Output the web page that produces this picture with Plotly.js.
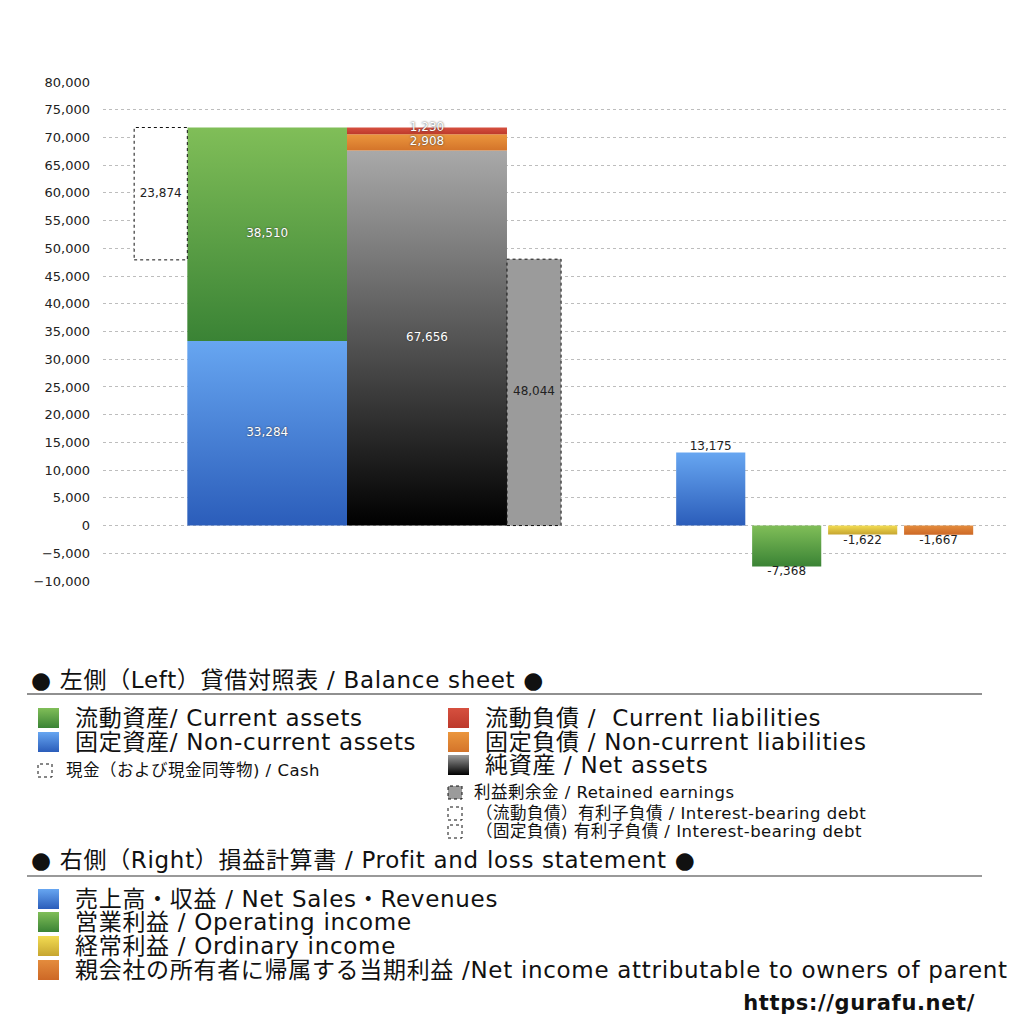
<!DOCTYPE html>
<html>
<head>
<meta charset="utf-8">
<script src="https://cdn.plot.ly/plotly-3.0.1.min.js"></script>
<style>
  html, body { margin: 0; padding: 0; background: #ffffff; }
  #chart { width: 1024px; height: 1024px; }
  /* legend texts: the original's Latin glyphs run wider than DejaVu */
  #chart .x2y2 .textpoint text { letter-spacing: 0.03em; }
</style>
</head>
<body>
<div id="chart"></div>
<script>
// 貸借対照表 (左側)
const assetLabels = ['固定資産', '流動資産'];            // bottom -> top
const assetValues = [33284, 38510];
const liabilityLabels = ['純資産', '固定負債', '流動負債']; // bottom -> top
const liabilityValues = [67656, 2908, 1230];
const cashValue = 23874;
const retainedValue = 48044;

// 損益計算書 (右側)
const plLabels = ['売上高・収益', '営業利益', '経常利益', '親会社の所有者に帰属する当期利益'];
const plValues = [13175, -7368, -1622, -1667];

// slot positions on the hidden x axis (range 0..11.9)
const cashSlot = [0.41, 1.11];
const assetSlot = [1.11, 3.212];
const liabilitySlot = [3.212, 5.318];
const retainedSlot = [5.318, 6.03];
const plCenters = [8, 9, 10, 11];
const plWidth = 0.91;

const FONT = 'DejaVu Sans, Noto Sans CJK JP, sans-serif';

// gradient colours: [bottom, top]
const GREEN = ['#3a8335', '#80be58'];
const BLUE = ['#2b5dba', '#67a6f1'];
const RED = ['#bd392b', '#d6503f'];
const ORANGE = ['#d4742a', '#eb963d'];
const NET = ['#000000', '#a9a9a9'];
const YELLOW = ['#c6a530', '#f3dc52'];
const PL_ORANGE = ['#cd6826', '#e48c3d'];
const RETAINED = '#9b9b9b';

const assetColors = [BLUE, GREEN];
const liabilityColors = [NET, ORANGE, RED];
const plColors = [BLUE, GREEN, YELLOW, PL_ORANGE];

const fmt = (v) => v.toLocaleString('en-US');

// closed rectangle drawn as a filled scatter so it can carry a vertical gradient
const rect = (x0, x1, y0, y1, opts = {}) => {
  const trace = {
    type: 'scatter',
    mode: 'lines',
    x: [x0, x1, x1, x0, x0],
    y: [y0, y0, y1, y1, y0],
    fill: opts.fill === false ? 'none' : 'toself',
    line: opts.line || { width: 0 },
    hoverinfo: 'skip',
    showlegend: false,
    xaxis: opts.xaxis || 'x',
    yaxis: opts.yaxis || 'y',
  };
  if (opts.gradient) {
    trace.fillgradient = {
      type: 'vertical',
      colorscale: [[0, opts.gradient[0]], [1, opts.gradient[1]]],
    };
  } else if (opts.color) {
    trace.fillcolor = opts.color;
  }
  return trace;
};

const traces = [];
const whiteLabels = { x: [], y: [], text: [] };
const darkLabels = { x: [], y: [], text: [] };

// thin segments get their label on the top edge, like the original
const labelY = (base, v) => (v < 2000 ? base + v : base + v / 2);

// assets stack
let base = 0;
assetValues.forEach((v, i) => {
  traces.push(rect(assetSlot[0], assetSlot[1], base, base + v, { gradient: assetColors[i] }));
  whiteLabels.x.push((assetSlot[0] + assetSlot[1]) / 2);
  whiteLabels.y.push(labelY(base, v));
  whiteLabels.text.push(fmt(v));
  base += v;
});
const totalAssets = base;

// liabilities + net assets stack
base = 0;
liabilityValues.forEach((v, i) => {
  traces.push(rect(liabilitySlot[0], liabilitySlot[1], base, base + v, { gradient: liabilityColors[i] }));
  whiteLabels.x.push((liabilitySlot[0] + liabilitySlot[1]) / 2);
  whiteLabels.y.push(labelY(base, v));
  whiteLabels.text.push(fmt(v));
  base += v;
});

// cash hangs from the top of total assets
const dotted = { color: '#111111', width: 1, dash: 'dot' };
traces.push(rect(cashSlot[0], cashSlot[1], totalAssets - cashValue, totalAssets, { color: '#ffffff', line: dotted }));
darkLabels.x.push((cashSlot[0] + cashSlot[1]) / 2);
darkLabels.y.push(totalAssets - cashValue / 2);
darkLabels.text.push(fmt(cashValue));

// retained earnings
traces.push(rect(retainedSlot[0], retainedSlot[1], 0, retainedValue, { color: RETAINED, line: dotted }));
darkLabels.x.push((retainedSlot[0] + retainedSlot[1]) / 2);
darkLabels.y.push(retainedValue / 2);
darkLabels.text.push(fmt(retainedValue));

// P&L bars
plValues.forEach((v, i) => {
  traces.push(rect(plCenters[i] - plWidth / 2, plCenters[i] + plWidth / 2, 0, v, { gradient: plColors[i] }));
});

traces.push({
  type: 'scatter', mode: 'text', ...whiteLabels,
  textfont: { family: FONT, size: 12, color: '#ffffff', shadow: '0px 0px 2px #333333' },
  hoverinfo: 'skip', showlegend: false,
});
traces.push({
  type: 'scatter', mode: 'text', ...darkLabels,
  textfont: { family: FONT, size: 12, color: '#222222' },
  hoverinfo: 'skip', showlegend: false,
});
traces.push({
  type: 'scatter', mode: 'text',
  x: plCenters, y: plValues, text: plValues.map(fmt),
  textposition: plValues.map((v) => (v >= 0 ? 'top center' : 'bottom center')),
  textfont: { family: FONT, size: 12, color: '#222222' },
  hoverinfo: 'skip', showlegend: false,
});

// ---- custom legend, drawn in page pixels on an overlay axis pair ----
const legendBig = [
  { x: 38, y: 718, text: '流動資産/ Current assets', grad: GREEN },
  { x: 38, y: 742, text: '固定資産/ Non-current assets', grad: BLUE },
  { x: 448, y: 718, text: '流動負債 /  Current liabilities', grad: RED },
  { x: 448, y: 742, text: '固定負債 / Non-current liabilities', grad: ORANGE },
  { x: 448, y: 765, text: '純資産 / Net assets', grad: [NET[0], '#9a9a9a'] },
  { x: 38, y: 899, text: '売上高・収益 / Net Sales・Revenues', grad: BLUE },
  { x: 38, y: 922, text: '営業利益 / Operating income', grad: GREEN },
  { x: 38, y: 946, text: '経常利益 / Ordinary income', grad: YELLOW },
  { x: 38, y: 970, text: '親会社の所有者に帰属する当期利益 /Net income attributable to owners of parent', grad: PL_ORANGE },
];
const legendSmall = [
  { x: 38, y: 770, text: '現金（および現金同等物) / Cash', fill: null },
  { x: 448, y: 792, text: '利益剰余金 / Retained earnings', fill: RETAINED },
  { x: 448, y: 813, text: '（流動負債）有利子負債 / Interest-bearing debt', fill: null },
  { x: 448, y: 831, text: '（固定負債) 有利子負債 / Interest-bearing debt', fill: null },
];
const headers = [
  { x: 31, y: 680, text: '● 左側（Left）貸借対照表 / Balance sheet ●' },
  { x: 31, y: 860, text: '● 右側（Right）損益計算書 / Profit and loss statement ●' },
];

const overlay = { xaxis: 'x2', yaxis: 'y2' };

legendBig.forEach((item) => {
  traces.push(rect(item.x, item.x + 21, item.y + 10, item.y - 10, { gradient: item.grad, ...overlay }));
});
legendSmall.forEach((item) => {
  const opts = { line: { color: '#111111', width: 1, dash: 'dot' }, ...overlay };
  if (item.fill) opts.color = item.fill; else opts.fill = false;
  traces.push(rect(item.x, item.x + 14, item.y + 7, item.y - 6, opts));
});

// text baseline sits a touch high in DejaVu, so nudge down 2px
const legendText = (items, dx, size, extra = {}) => ({
  type: 'scatter', mode: 'text', ...overlay,
  x: items.map((it) => it.x + (typeof dx === 'function' ? dx(it) : dx)),
  y: items.map((it) => it.y + 2),
  text: items.map((it) => it.text),
  textposition: 'middle right',
  textfont: { family: FONT, size, color: '#111111' },
  hoverinfo: 'skip', showlegend: false,
  ...extra,
});
traces.push(legendText(legendBig, 37, 23));
traces.push(legendText(legendSmall, (it) => (it.fill ? 26 : 28), 16.5));
traces.push(legendText(headers, 0, 23));
traces.push(legendText([{ x: 975, y: 1003, text: 'https://gurafu.net/' }], 0, 21, {
  textposition: 'middle left',
  textfont: { family: FONT, size: 21, color: '#111111', weight: 'bold' },
}));

const px = (x) => x / 1024;
const py = (y) => 1 - y / 1024;
const shapes = [
  { type: 'line', xref: 'paper', yref: 'paper', x0: px(27), x1: px(982), y0: py(694), y1: py(694), line: { color: '#222222', width: 1.2 } },
  { type: 'line', xref: 'paper', yref: 'paper', x0: px(27), x1: px(982), y0: py(876), y1: py(876), line: { color: '#777777', width: 1.5 } },
];

const layout = {
  width: 1024,
  height: 1024,
  margin: { l: 0, r: 0, t: 0, b: 0 },
  paper_bgcolor: '#ffffff',
  plot_bgcolor: 'rgba(0,0,0,0)',
  showlegend: false,
  font: { family: FONT, color: '#222222' },
  xaxis: { domain: [103 / 1024, 1007 / 1024], range: [0, 11.9], visible: false, fixedrange: true },
  yaxis: {
    domain: [(1024 - 581) / 1024, (1024 - 82) / 1024],
    range: [-10000, 80000],
    dtick: 5000,
    tickformat: ',d',
    showgrid: true,
    gridcolor: '#bdbdbd',
    griddash: 'dot',
    gridwidth: 1,
    zeroline: false,
    showline: false,
    ticks: '',
    ticklabelstandoff: 12,
    tickfont: { family: FONT, size: 13, color: '#222222' },
    fixedrange: true,
  },
  xaxis2: { domain: [0, 1], range: [0, 1024], visible: false, anchor: 'y2', fixedrange: true },
  yaxis2: { domain: [0, 1], range: [1024, 0], visible: false, anchor: 'x2', fixedrange: true },
  shapes,
};

Plotly.newPlot('chart', traces, layout, { displayModeBar: false, staticPlot: true });
</script>
</body>
</html>
